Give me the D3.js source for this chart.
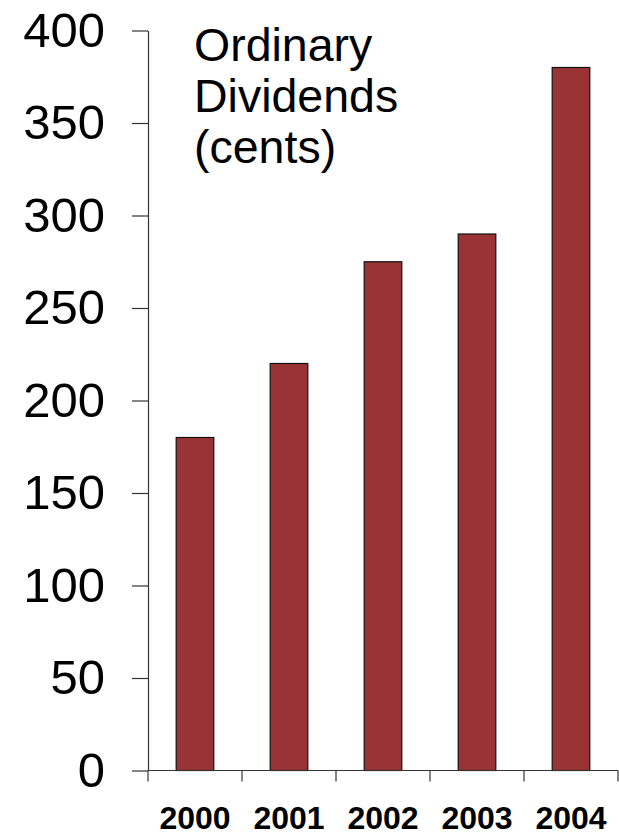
<!DOCTYPE html>
<html>
<head>
<meta charset="utf-8">
<script src="https://cdn.jsdelivr.net/npm/d3@7"></script>
<style>
  html, body { margin: 0; padding: 0; background: #fff; }
  svg { display: block; }
  text { font-family: "Liberation Sans", Arial, sans-serif; fill: #000; }
</style>
</head>
<body>
<svg id="chart" width="619" height="836"></svg>
<script>
// Ordinary dividends per year, in cents
const years = ["2000", "2001", "2002", "2003", "2004"];
const dividends = [180, 220, 275, 290, 380];
const yTicks = [0, 50, 100, 150, 200, 250, 300, 350, 400];
const titleLines = ["Ordinary", "Dividends", "(cents)"];

const svg = d3.select("#chart");
const plot = { left: 148, right: 618, top: 30.5, bottom: 770.5 };

const x = d3.scaleBand()
  .domain(years)
  .range([plot.left, plot.right])
  .paddingInner(0.6)
  .paddingOuter(0.3);

const y = d3.scaleLinear()
  .domain([0, 400])
  .range([plot.bottom, plot.top]);

// Bars
svg.append("g")
  .selectAll("rect")
  .data(years.map((yr, i) => ({ yr, v: dividends[i] })))
  .join("rect")
  .attr("x", d => x(d.yr))
  .attr("y", d => y(d.v))
  .attr("width", x.bandwidth())
  .attr("height", d => y(0) - y(d.v))
  .attr("fill", "#993335")
  .attr("stroke", "#111")
  .attr("stroke-width", 1.2);

// Y axis
const yAxis = svg.append("g")
  .attr("transform", `translate(${plot.left},0)`)
  .call(d3.axisLeft(y).tickValues(yTicks).tickSize(16).tickSizeOuter(0).tickPadding(27));
yAxis.select(".domain").attr("stroke", "#333").attr("stroke-width", 1.2);
yAxis.selectAll(".tick line").attr("stroke", "#333").attr("stroke-width", 1.2);
yAxis.selectAll(".tick text")
  .attr("font-size", 49)
  .attr("font-family", "Liberation Sans, Arial, sans-serif");

// X axis: ticks sit on category boundaries
const bounds = d3.range(years.length + 1).map(i => plot.left + i * (plot.right - plot.left) / years.length);
const xg = svg.append("g");
xg.append("line")
  .attr("x1", plot.left).attr("x2", plot.right)
  .attr("y1", plot.bottom).attr("y2", plot.bottom)
  .attr("stroke", "#333").attr("stroke-width", 1.2);
xg.selectAll("line.tick")
  .data(bounds)
  .join("line")
  .attr("class", "tick")
  .attr("x1", d => d).attr("x2", d => d)
  .attr("y1", plot.bottom).attr("y2", plot.bottom + 11)
  .attr("stroke", "#333").attr("stroke-width", 1.2);
xg.selectAll("text")
  .data(years)
  .join("text")
  .attr("x", d => x(d) + x.bandwidth() / 2)
  .attr("y", 829)
  .attr("text-anchor", "middle")
  .attr("font-size", 32)
  .attr("font-weight", "bold")
  .text(d => d);

// Title block inside the plot
svg.append("text")
  .attr("x", 194)
  .attr("y", 61)
  .attr("font-size", 46.5)
  .selectAll("tspan")
  .data(titleLines)
  .join("tspan")
  .attr("x", 194)
  .attr("dy", (d, i) => i === 0 ? 0 : 51)
  .text(d => d);
</script>
</body>
</html>
